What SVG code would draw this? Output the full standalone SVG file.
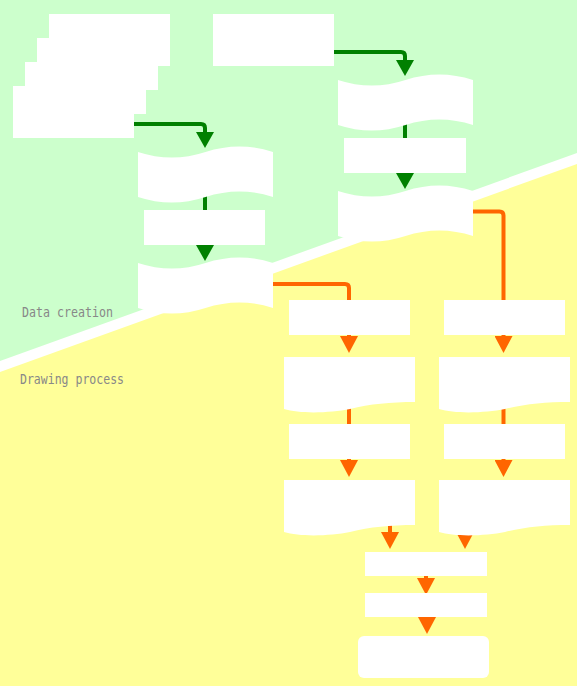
<svg xmlns="http://www.w3.org/2000/svg" width="577" height="686" viewBox="0 0 577 686">
<style>
.node{fill:#FFFFFF;stroke:none}
.cg{fill:none;stroke:#008000;stroke-width:4}
.co{fill:none;stroke:#FF6600;stroke-width:4}
.lbl{font-family:"DejaVu Sans Mono","Liberation Mono",monospace;font-size:14px;fill:#888888}
</style>
<defs>
<marker id="ag" markerUnits="userSpaceOnUse" markerWidth="16" markerHeight="18" viewBox="0 0 16 18" refX="0" refY="9" orient="auto"><path d="M0,0 L16,9 L0,18 Z" fill="#008000"/></marker>
<marker id="ao" markerUnits="userSpaceOnUse" markerWidth="17" markerHeight="18" viewBox="0 0 17 18" refX="0" refY="9" orient="auto"><path d="M0,0 L17,9 L0,18 Z" fill="#FF6600"/></marker>
<path id="wave" d="M0,0 Q33.75,11 67.5,0 T135,0 L135,45 Q101.25,34 67.5,45 T0,45 Z"/>
<path id="doc" d="M0,0 H131 V45 C106,45 86,47 66,52 C46,56 16,57 0,52 Z"/>
</defs>
<rect x="0" y="0" width="577" height="686" fill="#FFFFFF"/>
<g id="background">
<polygon points="0,0 577,0 577,153 0,361" fill="#CCFFCC"/>
<polygon points="0,372 577,164 577,686 0,686" fill="#FFFF99"/>
<text class="lbl" x="22" y="317" textLength="91" lengthAdjust="spacingAndGlyphs">Data creation</text>
<text class="lbl" x="20" y="384" textLength="104" lengthAdjust="spacingAndGlyphs">Drawing process</text>
</g>
<g id="connectors">
<path class="cg" d="M134,124 H201 Q205,124 205,128 V132" marker-end="url(#ag)"/>
<path class="cg" d="M334,52 H401 Q405,52 405,56 V60" marker-end="url(#ag)"/>
<path class="cg" d="M205,195 V245" marker-end="url(#ag)"/>
<path class="cg" d="M405,123 V173" marker-end="url(#ag)"/>
<path class="co" d="M273,284 H345 Q349,284 349,288 V336" marker-end="url(#ao)"/>
<path class="co" d="M473,211.5 H499.5 Q503.5,211.5 503.5,215.5 V336" marker-end="url(#ao)"/>
<path class="co" d="M349,405 V460" marker-end="url(#ao)"/>
<path class="co" d="M503.5,405 V460" marker-end="url(#ao)"/>
<path class="co" d="M390,520 V532" marker-end="url(#ao)"/>
<path class="co" d="M465,520 V532" marker-end="url(#ao)"/>
<path class="co" d="M426,570 V578" marker-end="url(#ao)"/>
<path class="co" d="M427,612 V617" marker-end="url(#ao)"/>
</g>
<g id="stack1"><rect class="node" x="49" y="14" width="121" height="52"/></g>
<g id="stack2"><rect class="node" x="37" y="38" width="121" height="52"/></g>
<g id="stack3"><rect class="node" x="25" y="62" width="121" height="52"/></g>
<g id="stack4"><rect class="node" x="13" y="86" width="121" height="52"/></g>
<g id="topRect"><rect class="node" x="213" y="14" width="121" height="52"/></g>
<g id="tapeA"><use href="#wave" class="node" x="138" y="152"/></g>
<g id="rectL1"><rect class="node" x="144" y="210" width="121" height="35"/></g>
<g id="tapeB"><use href="#wave" class="node" x="138" y="263"/></g>
<g id="tape1"><use href="#wave" class="node" x="338" y="80"/></g>
<g id="rectR1"><rect class="node" x="344" y="138" width="122" height="35"/></g>
<g id="tape2"><use href="#wave" class="node" x="338" y="191"/></g>
<g id="rectL2"><rect class="node" x="289" y="300" width="121" height="35"/></g>
<g id="rectR2"><rect class="node" x="444" y="300" width="121" height="35"/></g>
<g id="docC"><use href="#doc" class="node" x="284" y="357"/></g>
<g id="docD"><use href="#doc" class="node" x="439" y="357"/></g>
<g id="rectL3"><rect class="node" x="289" y="424" width="121" height="35"/></g>
<g id="rectR3"><rect class="node" x="444" y="424" width="121" height="35"/></g>
<g id="docE"><use href="#doc" class="node" x="284" y="480"/></g>
<g id="docF"><use href="#doc" class="node" x="439" y="480"/></g>
<g id="rectG"><rect class="node" x="365" y="552" width="122" height="24"/></g>
<g id="rectH"><rect class="node" x="365" y="593" width="122" height="24"/></g>
<g id="terminal"><rect class="node" x="358" y="636" width="131" height="42" rx="6"/></g>
</svg>
